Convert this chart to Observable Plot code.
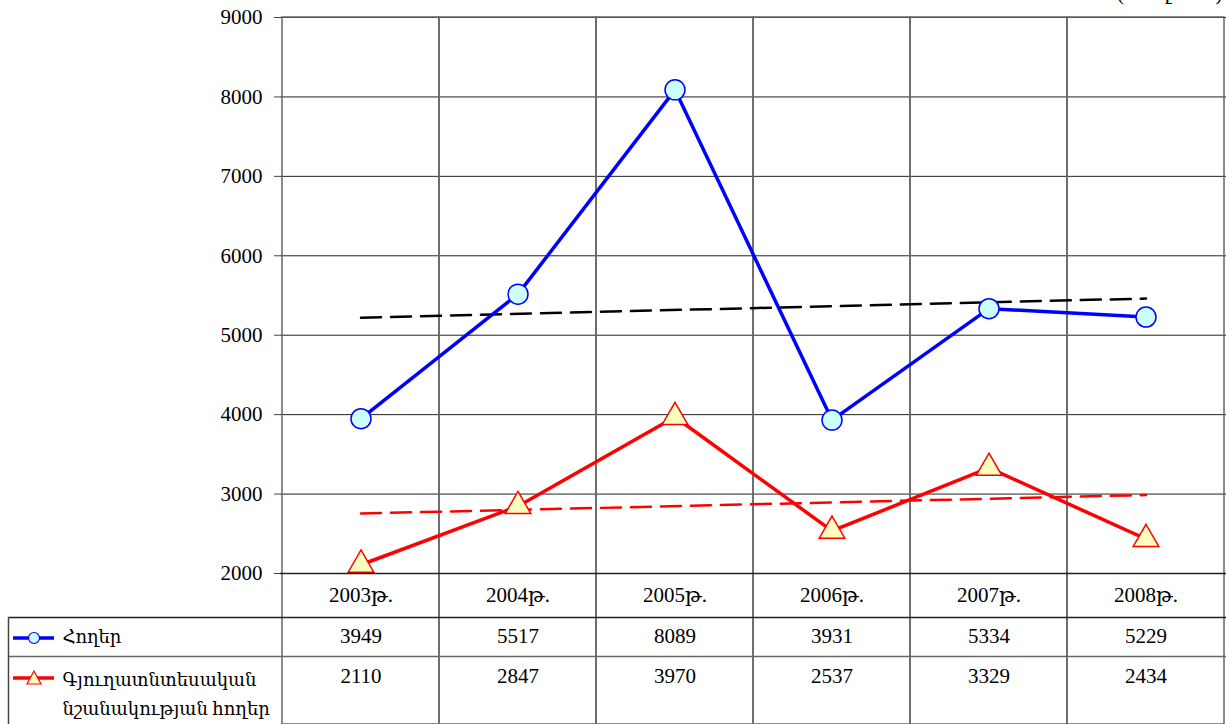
<!DOCTYPE html>
<html><head><meta charset="utf-8">
<script src="https://cdn.jsdelivr.net/npm/d3@7"></script>
<script src="https://cdn.jsdelivr.net/npm/@observablehq/plot@0.6"></script>
<style>
body{margin:0;background:#fff;}
#chart svg, #chart svg text{font-family:"Liberation Serif","DejaVu Serif",serif !important;}
#chart svg{display:block;}
</style>
</head><body><div id="chart"></div>
<script>
const years = ["2003թ.","2004թ.","2005թ.","2006թ.","2007թ.","2008թ."];
const seriesNames = ["Հողեր","Գյուղատնտեսական\nնշանակության հողեր"];
const lands = [3949,5517,8089,3931,5334,5229];
const agriLands = [2110,2847,3970,2537,3329,2434];
// trend line end values (first and last year)
const landsTrend = [5221,5462];
const agriTrend = [2755,2988];
const yTicks = [2000,3000,4000,5000,6000,7000,8000,9000];
const unitLabel = "(հազ. հա)";

const W = 1226, H = 724, mL = 280, mT = 17, mB = 151;
const FF = '"Liberation Serif","DejaVu Serif",serif';

const landsData = years.map((x,i)=>({x, y: lands[i]}));
const agriData = years.map((x,i)=>({x, y: agriLands[i]}));
const landsTrendData = [{x: years[0], y: landsTrend[0]}, {x: years[years.length-1], y: landsTrend[1]}];
const agriTrendData = [{x: years[0], y: agriTrend[0]}, {x: years[years.length-1], y: agriTrend[1]}];

const fs = 21, fsL = 18;
const chart = Plot.plot({
  width: W, height: H,
  marginLeft: mL, marginRight: 0, marginTop: mT, marginBottom: mB,
  style: {fontFamily: FF, fontSize: fs+"px", background: "#fff", color: "#000"},
  x: {type: "band", domain: years, padding: 0, axis: null},
  y: {domain: [2000, 9000], axis: null},
  marks: [
    Plot.ruleY(yTicks, {stroke: "#222", strokeWidth: 1, strokeOpacity: 1}),
    Plot.cell(years, {x: d => d, fill: "none", stroke: "#666", strokeWidth: 1.5, insetBottom: -mB, insetTop: 0}),
    Plot.axisY({ticks: yTicks, label: null, tickSize: 6, tickPadding: 12, tickFormat: d => String(d), fontSize: fs, fontFamily: FF, stroke: "#444"}),
    Plot.line(landsTrendData, {x: "x", y: "y", stroke: "#000", strokeWidth: 2.5, strokeDasharray: "20,10"}),
    Plot.line(agriTrendData, {x: "x", y: "y", stroke: "#ff0000", strokeWidth: 2.5, strokeDasharray: "20,10"}),
    Plot.line(landsData, {x: "x", y: "y", stroke: "#0000ff", strokeWidth: 3.5}),
    Plot.line(agriData, {x: "x", y: "y", stroke: "#ff0000", strokeWidth: 3.5}),
    Plot.dot(landsData, {x: "x", y: "y", r: 10, fill: "#ccffff", stroke: "#0000ff", strokeWidth: 1.5}),
    Plot.dot(agriData, {x: "x", y: "y", symbol: "triangle", r: 9.5, fill: "#ffffc0", stroke: "#ff0000", strokeWidth: 1.5}),
    // table header: years
    Plot.text(years, {x: d => d, frameAnchor: "bottom", dy: 28, fontSize: fs, fontFamily: FF}),
    // table row values
    Plot.text(lands, {x: (d,i) => years[i], text: d => String(d), frameAnchor: "bottom", dy: 69, fontSize: fs, fontFamily: FF}),
    Plot.text(agriLands, {x: (d,i) => years[i], text: d => String(d), frameAnchor: "bottom", dy: 109, fontSize: fs, fontFamily: FF}),
    // row labels
    Plot.text([seriesNames[0]], {frameAnchor: "bottom-left", dx: -218, dy: 69, textAnchor: "start", fontSize: fsL, fontFamily: FF}),
    Plot.text([seriesNames[1]], {frameAnchor: "bottom-left", dx: -218, dy: 92, textAnchor: "start", lineAnchor: "top", lineHeight: 1.6, fontSize: fsL, fontFamily: FF}),
    Plot.text([unitLabel], {frameAnchor: "top-right", dx: -4, dy: -mT - 1, textAnchor: "end", lineAnchor: "bottom", fontSize: fs, fontFamily: FF})
  ]
});

// table frame lines and legend swatches
const svg = d3.select(chart);
const g = svg.append("g");
g.append("line").attr("x1", 8).attr("x2", W).attr("y1", 617.5).attr("y2", 617.5).attr("stroke", "#222").attr("stroke-width", 1.5);
g.append("line").attr("x1", 8).attr("x2", W).attr("y1", 656.5).attr("y2", 656.5).attr("stroke", "#666").attr("stroke-width", 1.5);
g.append("line").attr("x1", 8.5).attr("x2", 8.5).attr("y1", 617).attr("y2", H).attr("stroke", "#444").attr("stroke-width", 1.5);
g.append("line").attr("x1", mL).attr("x2", W).attr("y1", 573.5).attr("y2", 573.5).attr("stroke", "#222").attr("stroke-width", 1.5);
// swatch 1
g.append("line").attr("x1", 13).attr("x2", 54).attr("y1", 638).attr("y2", 638).attr("stroke", "#0000ff").attr("stroke-width", 3.5);
g.append("circle").attr("cx", 34).attr("cy", 638).attr("r", 5.5).attr("fill", "#ccffff").attr("stroke", "#0000ff").attr("stroke-width", 1.2);
// swatch 2
g.append("line").attr("x1", 13).attr("x2", 54).attr("y1", 678).attr("y2", 678).attr("stroke", "#ff0000").attr("stroke-width", 3.5);
g.append("path").attr("d", "M34,671L41,684L27,684Z").attr("fill", "#ffffc0").attr("stroke", "#ff0000").attr("stroke-width", 1.2);

document.getElementById("chart").appendChild(chart);
</script>
</body></html>
